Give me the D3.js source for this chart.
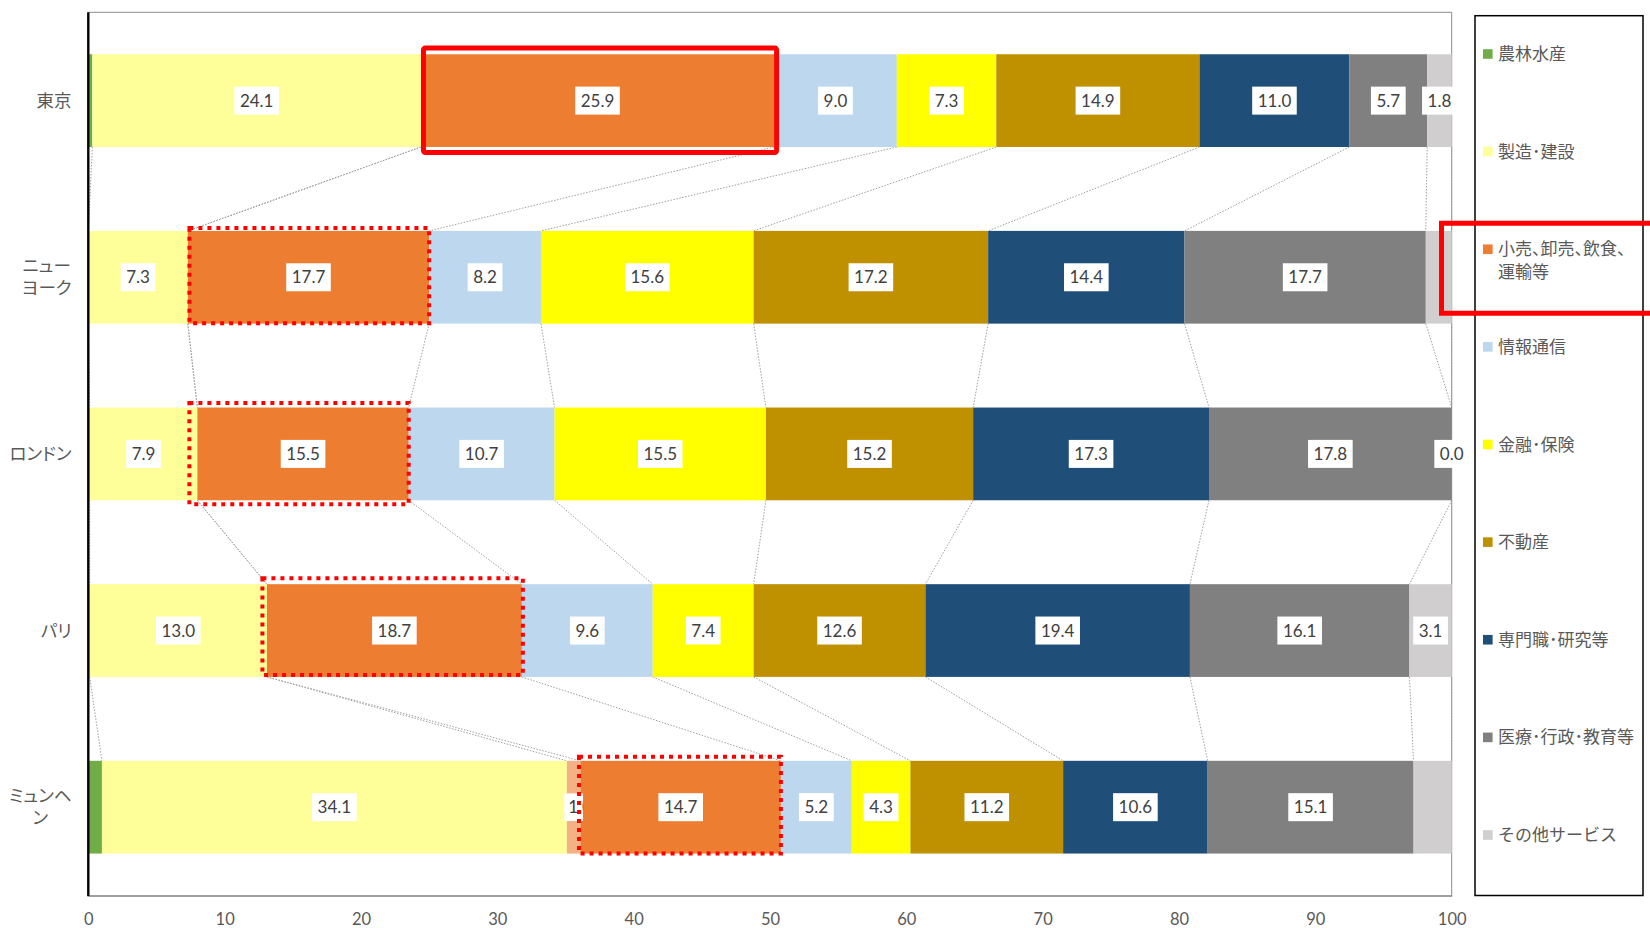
<!DOCTYPE html>
<html>
<head>
<meta charset="utf-8">
<script src="https://cdn.jsdelivr.net/npm/d3@7"></script>
<style>
  html, body { margin: 0; padding: 0; background: #ffffff; }
  svg { display: block; }
  .legend-text { font-feature-settings: "halt"; }
  .cat-text { font-feature-settings: "palt"; }
</style>
</head>
<body>
<svg id="chart" width="1650" height="928"></svg>
<script>
// ---- data: industry shares (%) by city ----
const cities = ["東京", "ニューヨーク", "ロンドン", "パリ", "ミュンヘン"];
const cityLines = [["東京"], ["ニュー", "ヨーク"], ["ロンドン"], ["パリ"], ["ミュンヘ", "ン"]];

const agriculture   = [0.3, 0.0, 0.1, 0.1, 1.0];
const manufacturing = [24.1, 7.3, 7.9, 13.0, 34.1];
const retailPart    = [0.0, 0.0, 0.0, 0.0, 1.0];
const retail        = [25.9, 17.7, 15.5, 18.7, 14.7];
const ict           = [9.0, 8.2, 10.7, 9.6, 5.2];
const finance       = [7.3, 15.6, 15.5, 7.4, 4.3];
const realEstate    = [14.9, 17.2, 15.2, 12.6, 11.2];
const professional  = [11.0, 14.4, 17.3, 19.4, 10.6];
const publicService = [5.7, 17.7, 17.8, 16.1, 15.1];
const otherService  = [1.8, 1.9, 0.0, 3.1, 2.8];

const xTicks = [0, 10, 20, 30, 40, 50, 60, 70, 80, 90, 100];

// series in stacking order
const series = [
  { key: "農林水産", lines: ["農林水産"], values: agriculture, color: "#70AD47", legend: true, labels: false },
  { key: "製造･建設", lines: ["製造･建設"], values: manufacturing, color: "#FFFF99", legend: true, labels: true },
  { key: "小売等(内訳)", lines: [], values: retailPart, color: "#F4B183", legend: false, labels: true, narrowLabel: true },
  { key: "小売、卸売、飲食、運輸等", lines: ["小売、卸売、飲食、", "運輸等"], values: retail, color: "#ED7D31", legend: true, labels: true },
  { key: "情報通信", lines: ["情報通信"], values: ict, color: "#BDD7EE", legend: true, labels: true },
  { key: "金融･保険", lines: ["金融･保険"], values: finance, color: "#FFFF00", legend: true, labels: true },
  { key: "不動産", lines: ["不動産"], values: realEstate, color: "#BF9000", legend: true, labels: true },
  { key: "専門職･研究等", lines: ["専門職･研究等"], values: professional, color: "#1F4E79", legend: true, labels: true },
  { key: "医療･行政･教育等", lines: ["医療･行政･教育等"], values: publicService, color: "#808080", legend: true, labels: true },
  { key: "その他サービス", lines: ["その他サービス"], values: otherService, color: "#D0CECE", legend: true, labels: true }
];

// data labels that are not shown (series key, city)
const hiddenLabels = [["小売等(内訳)", "東京"], ["小売等(内訳)", "ニューヨーク"], ["小売等(内訳)", "ロンドン"],
                      ["小売等(内訳)", "パリ"], ["その他サービス", "ニューヨーク"], ["その他サービス", "ミュンヘン"]];

// ---- layout ----
const svg = d3.select("#chart");
const plot = { left: 88.3, right: 1451.7, top: 12.3, bottom: 895.5 };
const FONT_JP = "'Noto Sans CJK JP', 'Noto Sans', sans-serif";
const FONT_NUM = "Lato, 'Open Sans', 'Liberation Sans', sans-serif";

const x = d3.scaleLinear().domain([0, 100]).range([plot.left, plot.right]);
const y = d3.scaleBand().domain(cities).range([plot.top, plot.bottom])
  .paddingInner(0.475).paddingOuter(0.2375);
const bw = y.bandwidth();

// stacked layout
const rows = cities.map((c, i) => {
  const row = { city: c };
  series.forEach(s => { row[s.key] = s.values[i]; });
  return row;
});
const stacked = d3.stack().keys(series.map(s => s.key))(rows);
const seriesByKey = new Map(series.map(s => [s.key, s]));

// ---- plot frame ----
svg.append("line").attr("x1", plot.left).attr("x2", plot.right).attr("y1", plot.top).attr("y2", plot.top)
  .attr("stroke", "#8c8c8c").attr("stroke-width", 1);
svg.append("line").attr("x1", plot.right).attr("x2", plot.right).attr("y1", plot.top).attr("y2", plot.bottom)
  .attr("stroke", "#8c8c8c").attr("stroke-width", 1);

// ---- series lines (dotted connectors between bars) ----
const connectors = svg.append("g").attr("fill", "none").attr("stroke", "#a0a0a0")
  .attr("stroke-width", 1).attr("stroke-dasharray", "1.5 1.5");
stacked.forEach(layer => {
  for (let i = 0; i < cities.length - 1; i++) {
    const a = layer[i], b = layer[i + 1];
    connectors.append("line")
      .attr("x1", x(a[1])).attr("y1", y(cities[i]) + bw)
      .attr("x2", x(b[1])).attr("y2", y(cities[i + 1]));
  }
});

// ---- bars ----
const bars = svg.append("g");
stacked.forEach(layer => {
  const s = seriesByKey.get(layer.key);
  bars.selectAll(null).data(layer).enter().append("rect")
    .attr("x", d => x(d[0]))
    .attr("y", d => y(d.data.city))
    .attr("width", d => Math.max(0, x(d[1]) - x(d[0])))
    .attr("height", bw)
    .attr("fill", s.color);
});

// ---- axes ----
const xAxis = d3.axisBottom(x).tickValues(xTicks).tickSize(0).tickPadding(0).tickFormat(d3.format("d"));
const gx = svg.append("g").attr("transform", `translate(0,${plot.bottom})`).call(xAxis);
gx.select(".domain").attr("stroke", "#7f7f7f").attr("stroke-width", 1.6);
gx.selectAll(".tick text")
  .attr("y", 23.5).attr("dy", "0.35em")
  .attr("fill", "#595959").attr("font-family", FONT_NUM).attr("font-size", 16.5);

svg.append("line").attr("x1", plot.left).attr("x2", plot.left).attr("y1", plot.top).attr("y2", plot.bottom + 0.8)
  .attr("stroke", "#000").attr("stroke-width", 2.4);

// category labels (wrapped lines centred within a right-aligned block)
const catG = svg.append("g").attr("class", "cat-text")
  .attr("font-family", FONT_JP).attr("font-size", 17.5).attr("fill", "#595959");
cities.forEach((c, i) => {
  const lines = cityLines[i];
  const cy = y(c) + bw / 2;
  const lh = 22;
  const t = catG.append("text");
  lines.forEach((ln, k) => {
    t.append("tspan").attr("y", cy + (k - (lines.length - 1) / 2) * lh).attr("dy", "0.35em").text(ln);
  });
  const spans = t.selectAll("tspan").nodes();
  const widths = spans.map(n => n.getComputedTextLength());
  const maxW = d3.max(widths);
  const blockRight = 71.5;
  const centre = blockRight - maxW / 2;
  spans.forEach(n => d3.select(n).attr("x", centre).attr("text-anchor", "middle"));
});

// ---- highlight frames around the retail segments ----
const retailKey = "小売、卸売、飲食、運輸等";
const retailLayer = stacked.find(l => l.key === retailKey);
const frames = [
  { city: "東京", dashed: false, inset: [2.5, -6.3, 2.5, 5.5] },
  { city: "ニューヨーク", dashed: true, inset: [1.6, -3, 0, -0.5] },
  { city: "ロンドン", dashed: true, inset: [-8, -4.5, 0, 4] },
  { city: "パリ", dashed: true, inset: [-4.5, -6, 1, -2] },
  { city: "ミュンヘン", dashed: true, inset: [-1.5, -4, 0, 0] }
];

// ---- data labels ----
const labelG = svg.append("g").attr("font-family", FONT_NUM).attr("font-size", 17).attr("fill", "#404040");
const fmt = d3.format(".1f");
const defs = svg.append("defs");
let clipId = 0;
stacked.forEach(layer => {
  const s = seriesByKey.get(layer.key);
  if (!s.labels) return;
  layer.forEach((d, i) => {
    const city = cities[i];
    if (hiddenLabels.some(h => h[0] === layer.key && h[1] === city)) return;
    const cx = x((d[0] + d[1]) / 2);
    const cy = y(city) + bw / 2;
    const g = labelG.append("g");
    const rect = g.append("rect").attr("fill", "#ffffff");
    const t = g.append("text").attr("y", cy).attr("dy", "0.36em").text(fmt(d[1] - d[0]));
    const tw = t.node().getComputedTextLength();
    const h = 28;
    if (s.narrowLabel) {
      // narrow box: only the leading digit stays visible
      const w = 19;
      const id = "lblclip" + (clipId++);
      defs.append("clipPath").attr("id", id).append("rect")
        .attr("x", cx - w / 2).attr("y", cy - h / 2).attr("width", w).attr("height", h);
      g.attr("clip-path", `url(#${id})`);
      rect.attr("x", cx - w / 2).attr("y", cy - h / 2).attr("width", w).attr("height", h);
      t.attr("x", cx - w / 2 + 4).attr("text-anchor", "start");
    } else {
      const w = tw + 11;
      rect.attr("x", cx - w / 2).attr("y", cy - h / 2).attr("width", w).attr("height", h);
      t.attr("x", cx).attr("text-anchor", "middle");
    }
  });
});

const frameG = svg.append("g").attr("fill", "none").attr("stroke", "#FF0000");
frames.forEach(f => {
  const i = cities.indexOf(f.city);
  const d = retailLayer[i];
  const x0 = x(d[0]) + f.inset[0], x1 = x(d[1]) + f.inset[2];
  const y0 = y(f.city) + f.inset[1], y1 = y(f.city) + bw + f.inset[3];
  const r = frameG.append("rect").attr("x", x0).attr("y", y0).attr("width", x1 - x0).attr("height", y1 - y0);
  if (f.dashed) {
    r.attr("stroke-width", 4).attr("stroke-dasharray", "4 5");
  } else {
    r.attr("stroke-width", 5).attr("rx", 2);
  }
});

// ---- legend ----
const legendBox = { x: 1475, y: 15.7, w: 168, h: 879.8 };
svg.append("rect").attr("x", legendBox.x).attr("y", legendBox.y)
  .attr("width", legendBox.w).attr("height", legendBox.h)
  .attr("fill", "none").attr("stroke", "#000").attr("stroke-width", 1.5);

const legendItems = series.filter(s => s.legend);
const legendY = d3.scalePoint().domain(legendItems.map(s => s.key)).range([54, 835]);
const lg = svg.append("g").attr("class", "legend-text")
  .attr("font-family", FONT_JP).attr("font-size", 17).attr("fill", "#595959");
legendItems.forEach(s => {
  const ly = legendY(s.key);
  lg.append("rect").attr("x", 1483).attr("y", ly - 4.8).attr("width", 9.6).attr("height", 9.6).attr("fill", s.color);
  const t = lg.append("text").attr("x", 1498);
  s.lines.forEach((ln, k) => {
    t.append("tspan").attr("x", 1498).attr("y", ly + k * 23).attr("dy", "0.36em").text(ln);
  });
});

// frame marking the retail legend entry
const retailLegendY = legendY(retailKey);
svg.append("rect")
  .attr("x", 1441.5).attr("y", retailLegendY - 26).attr("width", 230).attr("height", 90)
  .attr("fill", "none").attr("stroke", "#FF0000").attr("stroke-width", 5);
</script>
</body>
</html>
